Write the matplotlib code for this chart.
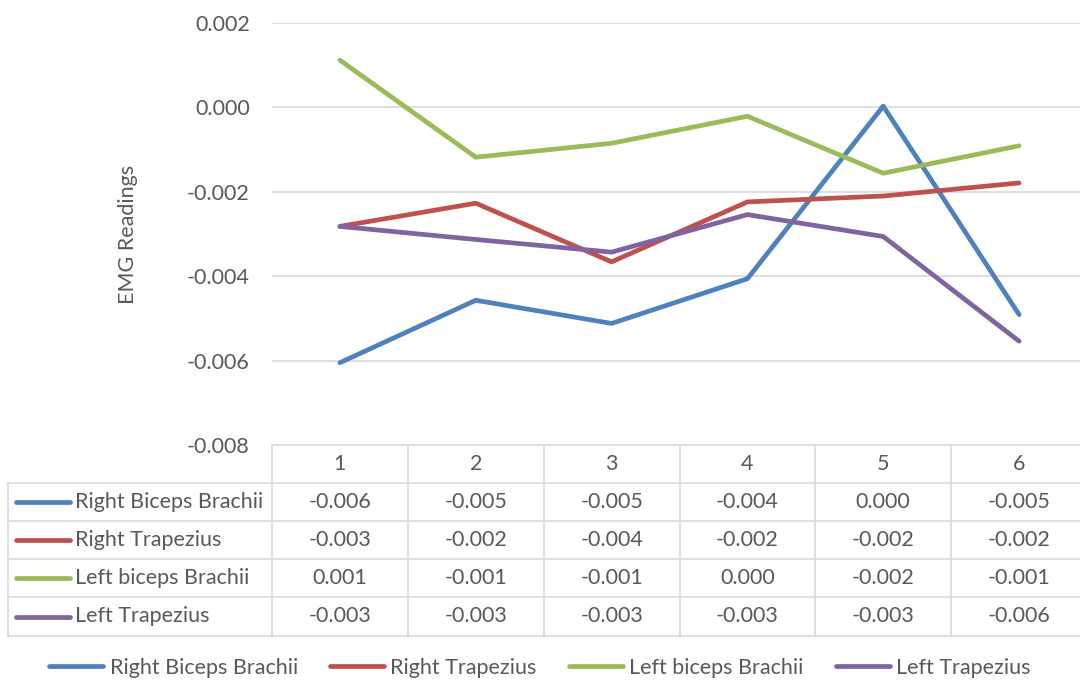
import matplotlib
matplotlib.use("Agg")
import matplotlib.pyplot as plt
from matplotlib.lines import Line2D
from matplotlib.transforms import blended_transform_factory

plt.rcParams['font.family'] = ['Lato', 'DejaVu Sans']
plt.rcParams['axes.unicode_minus'] = False

trials = [1, 2, 3, 4, 5, 6]
series_names = ['Right Biceps Brachii', 'Right Trapezius', 'Left biceps Brachii', 'Left Trapezius']
right_biceps = [-0.00605, -0.00457, -0.00512, -0.00406, 0.00003, -0.00491]
right_trap = [-0.00282, -0.00227, -0.00366, -0.00224, -0.00210, -0.00179]
left_biceps = [0.00112, -0.00118, -0.00085, -0.00021, -0.00156, -0.00091]
left_trap = [-0.00282, -0.00313, -0.00343, -0.00254, -0.00306, -0.00554]
yticks = [-0.008, -0.006, -0.004, -0.002, 0.000, 0.002]

colors = ['#4F81BD', '#C0504D', '#9BBB59', '#8064A2']
text_col = '#595959'
grid_col = '#D9D9D9'
fs = 15.5

W, H = 1080, 684
fig = plt.figure(figsize=(W / 100, H / 100), dpi=100)


def fx(px):
    return px / W


def fy(py):
    return 1 - py / H


# plot area runs slightly past the right edge of the figure
ax = fig.add_axes([fx(272), fy(445), fx(1087) - fx(272), fy(23) - fy(445)])
all_series = [right_biceps, right_trap, left_biceps, left_trap]
for vals, c in zip(all_series, colors):
    ax.plot(trials, vals, color=c, lw=3.4, solid_capstyle='round', solid_joinstyle='round', zorder=3)

ax.set_xlim(0.5, 6.5)
ax.set_ylim(-0.008, 0.002)
ax.set_yticks(yticks)
ax.set_yticklabels([f"{t:.3f}" for t in yticks])
ax.set_xticks([])
ax.yaxis.grid(True, color=grid_col, lw=1.2)
ax.set_axisbelow(True)
for s in ax.spines.values():
    s.set_visible(False)
ax.tick_params(axis='y', length=0, pad=16, labelsize=fs, labelcolor=text_col)
ax.set_ylabel('EMG Readings', fontsize=fs, color=text_col, labelpad=35)

# data table under the plot: x in data units, y in figure units
tr = blended_transform_factory(ax.transData, fig.transFigure)
row_edges = [445, 483, 521, 559, 597, 636]
row_y = [fy(p) for p in row_edges]

# horizontal rules
ax.plot([0.5, 6.5], [row_y[0]] * 2, transform=tr, color=grid_col, lw=1.2, clip_on=False)
for yv in row_y[1:]:
    fig.add_artist(Line2D([fx(8), 1.0], [yv, yv], color=grid_col, lw=1.2))
# vertical rules
for xv in [0.5 + i for i in range(7)]:
    ax.plot([xv, xv], [row_y[0], row_y[-1]], transform=tr, color=grid_col, lw=1.2, clip_on=False)
fig.add_artist(Line2D([fx(8), fx(8)], [row_y[1], row_y[-1]], color=grid_col, lw=1.2))

# header row
hy = (row_y[0] + row_y[1]) / 2
for t in trials:
    ax.text(t, hy, str(t), transform=tr, ha='center', va='center', fontsize=fs, color=text_col)


def fmt(v):
    s = f"{v:.3f}"
    return '0.000' if s == '-0.000' else s


for i, (name, vals, c) in enumerate(zip(series_names, all_series, colors)):
    cy = (row_y[i + 1] + row_y[i + 2]) / 2
    fig.add_artist(Line2D([fx(16), fx(70)], [cy, cy], color=c, lw=3.4, solid_capstyle='round'))
    fig.text(fx(75), cy, name, ha='left', va='center', fontsize=fs, color=text_col)
    for t, v in zip(trials, vals):
        ax.text(t, cy, fmt(v), transform=tr, ha='center', va='center', fontsize=fs, color=text_col)

# legend along the bottom
handles = [Line2D([], [], color=c, lw=3.4, solid_capstyle='round') for c in colors]
fig.legend(handles, series_names, loc='center', bbox_to_anchor=(0.5, fy(668)), ncol=4,
           frameon=False, fontsize=fs, labelcolor=text_col, handlelength=2.5,
           handletextpad=0.3, columnspacing=1.5)

fig.savefig('out.png', dpi=100)
